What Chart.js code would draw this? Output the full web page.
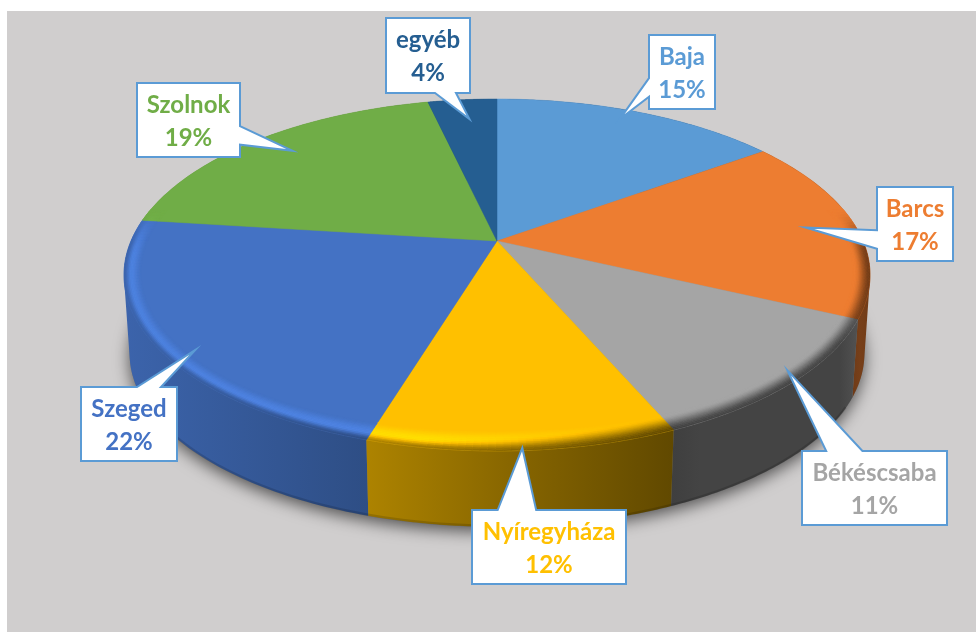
<!DOCTYPE html>
<html><head><meta charset="utf-8">
<style>html,body{margin:0;padding:0;background:#fff}canvas{display:block}</style>
<script src="https://cdn.jsdelivr.net/npm/chart.js@4"></script>
</head><body>
<canvas id="c" width="976" height="632"></canvas>
<script>
const categories = ['Baja','Barcs','Békéscsaba','Nyíregyháza','Szeged','Szolnok','egyéb'];
const shares = [15,17,11.5,11.2,22.3,19.4,3.6];
const percentLabels = ['15%','17%','11%','12%','22%','19%','4%'];
const sliceColors = ['#5b9bd5','#ed7d31','#a5a5a5','#ffc000','#4472c4','#70ad47','#255e91'];
// callout boxes [left, top, right, bottom] and the radial reach of each pointer
const calloutBoxes = [[649,35,715,109],[877,187,953,261],[802,451,947,525],[472,510,626,584],[81,387,177,461],[137,83,240,157],[386,18,470,93]];
const calloutReach = [0.92,0.86,0.96,0.99,0.93,0.86,0.84];
const calloutTurn = [-2,0,-2,0,-5,1.5,0.5];

const VIEW = {ax:366/241, by:169.4/241, k:0.193, depth:79, s:0.985, bevel:17};
const hex = h => [1,3,5].map(i=>parseInt(h.substr(i,2),16));
const rgb = c => `rgb(${c.map(v=>Math.max(0,Math.min(255,Math.round(v)))).join(',')})`;
const interp = (tbl,x)=>{ if(x<=tbl[0][0])return tbl[0][1]; for(let i=1;i<tbl.length;i++){ if(x<=tbl[i][0]){const p=tbl[i-1],q=tbl[i];return p[1]+(q[1]-p[1])*(x-p[0])/(q[0]-p[0]);}} return tbl[tbl.length-1][1]; };
const sideShade = [[120,0.88],[367,0.68],[520,0.52],[672,0.38],[700,0.41],[840,0.41],[860,0.5],[880,0.45]];
const ridge = [[120,1.14],[420,1.16],[600,1.02],[680,1.0],[980,1.0]];
const plateau = [[420,0.6],[650,0.12],[980,0.12]];
const smooth=(a,b,x)=>{const t=Math.max(0,Math.min(1,(x-a)/(b-a)));return t*t*(3-2*t);};

function proj(arc,a,r){
  const R=arc.outerRadius, u=r*Math.cos(a), v=r*Math.sin(a), w=1-VIEW.k*v;
  return {x:arc.x+R*VIEW.ax*u/w, y:arc.y+R*VIEW.by*v/w};
}
function lower(arc,p){
  return {x:arc.x+VIEW.s*(p.x-arc.x), y:arc.y+VIEW.depth+VIEW.s*(p.y-arc.y)};
}
function rimPath(ctx,arc,a0,a1,n,map,first){
  for(let i=0;i<=n;i++){
    const p=map(proj(arc,a0+(a1-a0)*i/n,1));
    if(first&&i===0)ctx.moveTo(p.x,p.y);else ctx.lineTo(p.x,p.y);
  }
}
function drawPie(chart){
  const ctx=chart.ctx, arcs=chart.getDatasetMeta(0).data;
  const id=p=>p, lo=p=>lower(arcs[0],p);
  // soft cast shadow
  ctx.save();
  ctx.shadowColor='rgba(0,0,0,0.6)';ctx.shadowBlur=16;ctx.shadowOffsetY=5;ctx.fillStyle='#777';
  ctx.beginPath();rimPath(ctx,arcs[0],0,Math.PI*2,180,lo,true);ctx.closePath();ctx.fill();
  ctx.restore();
  // walls: one path of uniformly wound strips per slice, back to front
  const order=arcs.map((a,i)=>i).sort((p,q)=>Math.sin((arcs[p].startAngle+arcs[p].endAngle)/2)-Math.sin((arcs[q].startAngle+arcs[q].endAngle)/2));
  order.forEach(i=>{
    const a=arcs[i], c=hex(sliceColors[i]);
    const g=ctx.createLinearGradient(0,0,976,0);
    sideShade.forEach(([x,f])=>g.addColorStop(x/976,rgb(c.map(v=>v*f))));
    ctx.fillStyle=g;
    const n=80;
    ctx.beginPath();
    for(let s=0;s<n;s++){
      const a0=a.startAngle+(a.endAngle-a.startAngle)*s/n, a1=a.startAngle+(a.endAngle-a.startAngle)*(s+1)/n;
      let q=[proj(a,a0,1),proj(a,a1,1)]; q=[q[0],q[1],lo(q[1]),lo(q[0])];
      let area=0;q.forEach((p,j)=>{const o=q[(j+1)%4];area+=p.x*o.y-o.x*p.y;});
      if(area<0)q.reverse();
      ctx.moveTo(q[0].x,q[0].y);ctx.lineTo(q[1].x,q[1].y);ctx.lineTo(q[2].x,q[2].y);ctx.lineTo(q[3].x,q[3].y);ctx.closePath();
    }
    ctx.fill();
  });
  // darker foot of the wall
  ctx.strokeStyle='rgba(0,0,0,0.14)';ctx.lineWidth=2.5;
  ctx.beginPath();rimPath(ctx,arcs[0],0.5,Math.PI-0.5,100,p=>{const l=lo(p);return {x:l.x,y:l.y-1};},true);ctx.stroke();
  // top face
  arcs.forEach((a,i)=>{
    ctx.fillStyle=sliceColors[i];ctx.strokeStyle=sliceColors[i];ctx.lineWidth=0.5;
    ctx.beginPath();ctx.moveTo(a.x,a.y);
    rimPath(ctx,a,a.startAngle,a.endAngle,60,id,false);
    ctx.closePath();ctx.fill();ctx.stroke();
  });
  // bevel along the front rim
  const bands=12, step=Math.PI/180;
  arcs.forEach((a,i)=>{
    const c=hex(sliceColors[i]), n=Math.max(1,Math.ceil((a.endAngle-a.startAngle)/step));
    for(let s=0;s<n;s++){
      const a0=a.startAngle+(a.endAngle-a.startAngle)*s/n, a1=a.startAngle+(a.endAngle-a.startAngle)*(s+1)/n;
      const am=(a0+a1)/2, fr=smooth(-0.2,0.08,Math.sin(am));
      if(fr<=0)continue;
      const rim=proj(a,am,1), dist=Math.hypot(rim.x-a.x,rim.y-a.y), rin=1-VIEW.bevel/dist;
      for(let b=0;b<bands;b++){
        const t=(b+0.5)/bands, r0=rin+(1-rin)*b/bands, r1=rin+(1-rin)*(b+1)/bands;
        const h=interp(ridge,rim.x), sd=interp(sideShade,rim.x), tp=interp(plateau,rim.x);
        const f0=t<tp? 1+(h-1)*smooth(0,tp,t) : h+(sd-h)*smooth(tp,1,t);
        const f=1+(f0-1)*fr;
        const col=rgb(c.map(v=>v*f));
        const p=[proj(a,a0,r0),proj(a,a1,r0),proj(a,a1,r1),proj(a,a0,r1)];
        ctx.fillStyle=col;ctx.strokeStyle=col;ctx.lineWidth=0.5;
        ctx.beginPath();ctx.moveTo(p[0].x,p[0].y);p.slice(1).forEach(q=>ctx.lineTo(q.x,q.y));ctx.closePath();ctx.fill();ctx.stroke();
      }
    }
  });
}
function drawCallouts(chart){
  const ctx=chart.ctx, arcs=chart.getDatasetMeta(0).data;
  arcs.forEach((a,i)=>{
    const [l,t,r,b]=calloutBoxes[i], w=r-l, h=b-t;
    const tip=proj(a,(a.startAngle+a.endAngle)/2+calloutTurn[i]*Math.PI/180,calloutReach[i]);
    const dx=tip.x-(l+r)/2, dy=tip.y-(t+b)/2, horizontal=Math.abs(dx*h/w)>Math.abs(dy);
    const span=(o,len,pos)=>pos?[o+len*7/12,o+len*5/6]:[o+len/6,o+len*5/12];
    ctx.beginPath();ctx.moveTo(l,t);
    if(!horizontal&&dy<0){const [m,n]=span(l,w,dx>0);ctx.lineTo(m,t);ctx.lineTo(tip.x,tip.y);ctx.lineTo(n,t);}
    ctx.lineTo(r,t);
    if(horizontal&&dx>0){const [m,n]=span(t,h,dy>0);ctx.lineTo(r,m);ctx.lineTo(tip.x,tip.y);ctx.lineTo(r,n);}
    ctx.lineTo(r,b);
    if(!horizontal&&dy>0){const [m,n]=span(l,w,dx>0);ctx.lineTo(n,b);ctx.lineTo(tip.x,tip.y);ctx.lineTo(m,b);}
    ctx.lineTo(l,b);
    if(horizontal&&dx<0){const [m,n]=span(t,h,dy>0);ctx.lineTo(l,n);ctx.lineTo(tip.x,tip.y);ctx.lineTo(l,m);}
    ctx.closePath();
    ctx.fillStyle='#fff';ctx.fill();
    ctx.strokeStyle='#5b9bd5';ctx.lineWidth=2;ctx.lineJoin='miter';ctx.stroke();
    ctx.fillStyle=sliceColors[i];
    ctx.font='700 24px Lato, "Open Sans", sans-serif';
    ctx.textAlign='center';ctx.textBaseline='middle';
    ctx.fillText(categories[i],(l+r)/2,t+22);
    ctx.fillText(percentLabels[i],(l+r)/2,t+55);
  });
}
const pie3d={
  id:'pie3d',
  beforeDraw(chart){const c=chart.ctx;c.fillStyle='#fff';c.fillRect(0,0,976,632);c.fillStyle='#d0cece';c.fillRect(7,11,969,621);},
  beforeDatasetsDraw(chart){drawPie(chart);return false;},
  afterDraw(chart){drawCallouts(chart);}
};
new Chart(document.getElementById('c'),{
  type:'pie',
  data:{labels:categories,datasets:[{data:shares,backgroundColor:sliceColors,borderWidth:0}]},
  options:{responsive:false,animation:false,layout:{padding:{left:18,bottom:150}},
    plugins:{legend:{display:false},tooltip:{enabled:false}}},
  plugins:[pie3d]
});
</script>
</body></html>
